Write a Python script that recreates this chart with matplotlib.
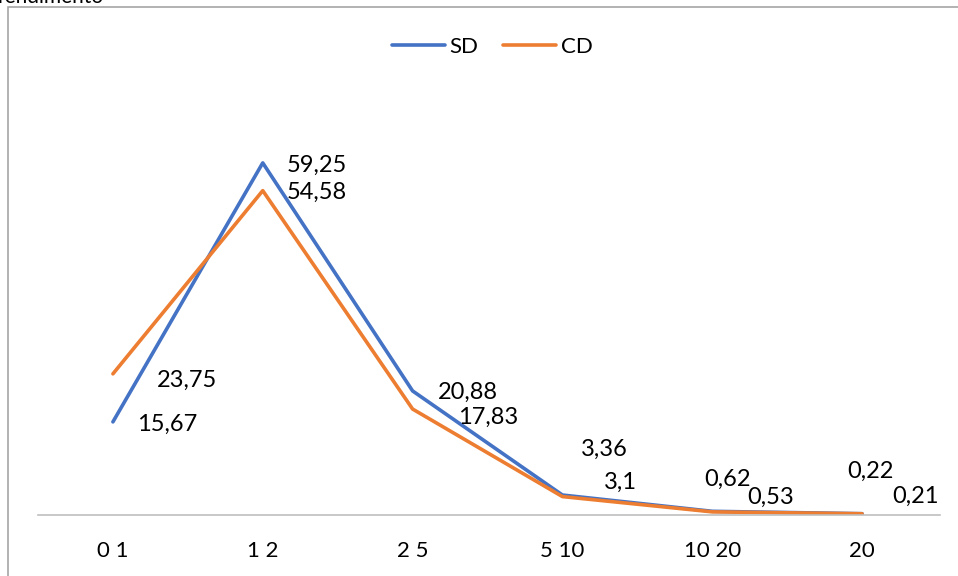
import matplotlib.pyplot as plt
from matplotlib.patches import Rectangle

plt.rcParams['font.family'] = ['Lato', 'DejaVu Sans']

categories = ["0 1", "1 2", "2 5", "5 10", "10 20", "20"]
sd = [15.67, 59.25, 20.88, 3.36, 0.62, 0.22]
cd = [23.75, 54.58, 17.83, 3.1, 0.53, 0.21]
sd_labels = ["15,67", "59,25", "20,88", "3,36", "0,62", "0,22"]
cd_labels = ["23,75", "54,58", "17,83", "3,1", "0,53", "0,21"]

# label offsets in pixels (placed by hand like the source chart)
sd_off = [(24, -2), (24, -2), (25, -1), (19, 46), (-8, 32), (-15, 42)]
cd_off = [(44, -6), (24, -2), (45, -8), (42, 14), (35, 15), (30, 17)]


def main():
    fig = plt.figure(figsize=(9.58, 5.76), dpi=100)
    ax = fig.add_axes([38 / 958, 61 / 576, 902 / 958, 416 / 576])

    x = list(range(len(categories)))
    ax.plot(x, sd, color="#4472C4", lw=2.6, label="SD", solid_capstyle="round")
    ax.plot(x, cd, color="#ED7D31", lw=2.6, label="CD", solid_capstyle="round")

    for i in x:
        ax.annotate(sd_labels[i], (i, sd[i]), xytext=sd_off[i], textcoords="offset pixels",
                    fontsize=17, ha="left", va="center")
        ax.annotate(cd_labels[i], (i, cd[i]), xytext=cd_off[i], textcoords="offset pixels",
                    fontsize=17, ha="left", va="center")

    ax.set_xlim(-0.5, 5.52)
    ax.set_ylim(0, 70)
    ax.set_xticks(x)
    ax.set_xticklabels(categories, fontsize=16)
    ax.tick_params(axis="x", length=0, pad=19)
    ax.set_yticks([])
    for side in ["top", "right", "left"]:
        ax.spines[side].set_visible(False)
    ax.spines["bottom"].set_color("#bfbfbf")
    ax.spines["bottom"].set_linewidth(1.2)

    fig.legend(loc="center", bbox_to_anchor=(492 / 958, 1 - 47 / 576), ncol=2,
               frameon=False, fontsize=16, handlelength=2.4, columnspacing=1.1,
               handletextpad=0.2)

    fig.add_artist(Rectangle((8 / 958, -0.1), 1.2, 1.1 - 7 / 576, transform=fig.transFigure,
                             fill=False, edgecolor="#a6a6a6", lw=1.2))
    fig.text(-0.003, 1 - 3 / 576, "rendimento", fontsize=15, va="baseline", ha="left")

    fig.savefig("out.png", dpi=100)


if __name__ == "__main__":
    main()
